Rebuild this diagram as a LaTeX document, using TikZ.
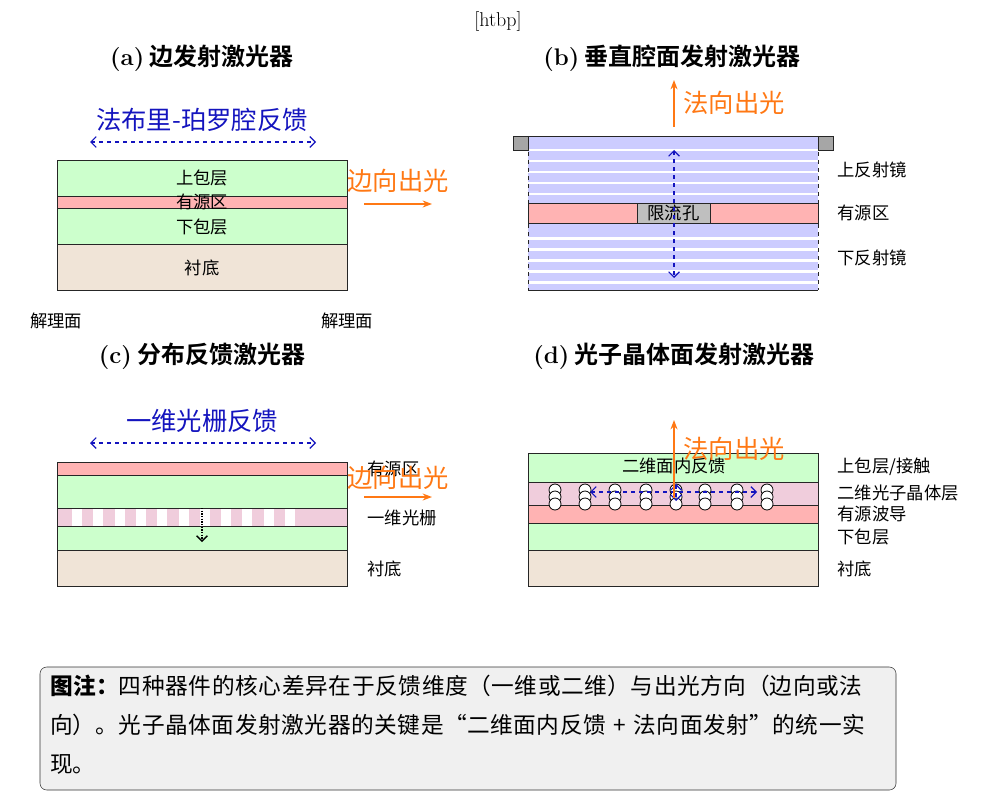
\documentclass[tikz,border=0pt]{standalone}
\usepackage{fontspec}
\newfontfamily\cjk{Noto Sans CJK SC}
\newfontfamily\cjkb{Noto Sans CJK SC}[BoldFont={Noto Sans CJK SC Bold}]
\XeTeXlinebreaklocale "zh"
\XeTeXlinebreakskip=0pt plus 1pt
\usetikzlibrary{arrows.meta}
\definecolor{clad}{RGB}{204,255,204}
\definecolor{act}{RGB}{255,179,179}
\definecolor{subs}{RGB}{240,228,215}
\definecolor{phc}{RGB}{240,205,220}
\definecolor{dbr}{RGB}{204,204,255}
\definecolor{outc}{RGB}{255,120,20}
\definecolor{fbc}{RGB}{20,20,190}
\tikzset{
  layer/.style={draw=black!85, line width=0.6pt},
  lbl/.style={font=\cjk\fontsize{13}{15}\selectfont, inner sep=1pt},
  rlbl/.style={lbl, anchor=west},
  ttl/.style={font=\cjkb\bfseries\fontsize{18}{20}\selectfont},
  outarrow/.style={outc, line width=1.2pt, -{Stealth[length=7pt]}},
  outlbl/.style={outc, font=\cjk\fontsize{19}{21}\selectfont, inner sep=0pt},
  fbarrow/.style={fbc, dashed, line width=0.9pt, {Straight Barb[length=4pt]}-{Straight Barb[length=4pt]}},
  fblbl/.style={fbc, font=\cjk\fontsize{19}{21}\selectfont, inner sep=0pt},
}
\begin{document}
\begin{tikzpicture}[x=0.75pt, y=-0.75pt]
  \useasboundingbox (0,0) rectangle (998,802);
  \node (htbp) at (498,22) {\fontsize{15}{17}\selectfont [htbp]};

  % (a) edge emitter
  \node[ttl] (ta) at (202,58) {{\normalfont\bfseries (a)} 边发射激光器};
  \fill[clad] (57,160) rectangle (347,196);
  \fill[act] (57,196) rectangle (347,208);
  \fill[clad] (57,208) rectangle (347,244);
  \fill[subs] (57,244) rectangle (347,290);
  \draw[layer] (57,160) rectangle (347,290);
  \foreach \yy in {196,208,244} \draw[layer] (57,\yy) -- (347,\yy);
  \node[lbl] (ua) at (202,178) {上包层};
  \node[lbl] (aa) at (202,202) {有源区};
  \node[lbl] (la) at (202,227) {下包层};
  \node[lbl] (sa) at (202,268) {衬底};
  \node[lbl] (cl) at (56,321) {解理面};
  \node[lbl] (cr) at (347,321) {解理面};
  \coordinate (fa1) at (90,142);
  \coordinate (fa2) at (316,142);
  \draw[fbarrow] (fa1) -- (fa2);
  \node[fblbl] (fba) at (202,120) {法布里-珀罗腔反馈};
  \coordinate (oa1) at (364,204);
  \coordinate (oa2) at (432,204);
  \draw[outarrow] (oa1) -- (oa2);
  \node[outlbl] (ola) at (398,181) {边向出光};

  % (b) VCSEL
  \node[ttl] (tb) at (672,58) {{\normalfont\bfseries (b)} 垂直腔面发射激光器};
  \fill[dbr] (528,136) rectangle (818,203);
  \fill[dbr] (528,223) rectangle (818,290);
  \foreach \yy in {149,160,171,182,193,237,248,259,270,281}
    \fill[white] (528,\yy) rectangle (818,\yy+2.5);
  \fill[act] (528,203) rectangle (818,223);
  \draw[layer, dashed] (528,136) -- (528,290) (818,136) -- (818,290);
  \draw[layer] (528,136) -- (818,136) (528,290) -- (818,290)
               (528,203) rectangle (818,223);
  \node[draw=black!85, fill=black!25, minimum width=55pt, minimum height=15pt,
        inner sep=0pt, lbl] (ox) at (673.5,213) {限流孔};
  \draw[layer, fill=black!35] (513,136) rectangle (528,150);
  \draw[layer, fill=black!35] (818,136) rectangle (833,150);
  \coordinate (fb1) at (674,150);
  \coordinate (fb2) at (674,278);
  \draw[fbarrow] (fb1) -- (fb2);
  \coordinate (ob1) at (674,127);
  \coordinate (ob2) at (674,80);
  \draw[outarrow] (ob1) -- (ob2);
  \node[outlbl] (olb) at (734,103) {法向出光};
  \node[rlbl] (rb1) at (836,170) {上反射镜};
  \node[rlbl] (rb2) at (836,213) {有源区};
  \node[rlbl] (rb3) at (836,258) {下反射镜};

  % (c) DFB
  \node[ttl] (tc) at (202,356) {{\normalfont\bfseries (c)} 分布反馈激光器};
  \fill[act] (57,462) rectangle (347,475);
  \fill[clad] (57,475) rectangle (347,508);
  \fill[phc] (57,508) rectangle (347,526);
  \foreach \i in {0,...,10}
    \fill[white] (72+21.3*\i,508) rectangle (82+21.3*\i,526);
  \fill[clad] (57,526) rectangle (347,550);
  \fill[subs] (57,550) rectangle (347,586);
  \draw[layer] (57,462) rectangle (347,586);
  \foreach \yy in {475,508,526,550} \draw[layer] (57,\yy) -- (347,\yy);
  \coordinate (gc1) at (202,508);
  \coordinate (gc2) at (202,542);
  \draw[densely dotted, line width=1pt, -{Straight Barb[length=4pt]}] (gc1) -- (gc2);
  \coordinate (fc1) at (90,443);
  \coordinate (fc2) at (316,443);
  \draw[fbarrow] (fc1) -- (fc2);
  \node[fblbl] (fbc) at (202,421) {一维光栅反馈};
  \coordinate (oc1) at (364,497);
  \coordinate (oc2) at (432,497);
  \draw[outarrow] (oc1) -- (oc2);
  \node[rlbl] (rc1) at (366,469) {有源区};
  \node[outlbl] (olc) at (398,478) {边向出光};
  \node[rlbl] (rc2) at (366,518) {一维光栅};
  \node[rlbl] (rc3) at (366,569) {衬底};

  % (d) PCSEL
  \node[ttl] (td) at (674,356) {{\normalfont\bfseries (d)} 光子晶体面发射激光器};
  \fill[clad] (528,453) rectangle (818,482);
  \fill[phc] (528,482) rectangle (818,505);
  \fill[act] (528,505) rectangle (818,523);
  \fill[clad] (528,523) rectangle (818,550);
  \fill[subs] (528,550) rectangle (818,586);
  \draw[layer] (528,453) rectangle (818,586);
  \foreach \yy in {482,505,523,550} \draw[layer] (528,\yy) -- (818,\yy);
  \node[lbl] (ifb) at (674,466) {二维面内反馈};
  \foreach \xx in {555,585,615,646,676,705,737,767}
    \foreach \yy in {490,497,504}
      \draw[fill=white, line width=0.6pt] (\xx,\yy) circle (4.5pt);
  \coordinate (fd1) at (590,492);
  \coordinate (fd2) at (757,492);
  \draw[fbarrow] (fd1) -- (fd2);
  \coordinate (fd3) at (676,484);
  \coordinate (fd4) at (676,501);
  \draw[fbarrow] (fd3) -- (fd4);
  \coordinate (od1) at (674,498);
  \coordinate (od2) at (674,420);
  \draw[outarrow] (od1) -- (od2);
  \node[outlbl] (old) at (734,449) {法向出光};
  \node[rlbl] (rd1) at (836,467) {上包层/接触};
  \node[rlbl] (rd2) at (836,493) {二维光子晶体层};
  \node[rlbl] (rd3) at (836,514) {有源波导};
  \node[rlbl] (rd4) at (836,537) {下包层};
  \node[rlbl] (rd5) at (836,569) {衬底};

  % note
  \draw[black!80, fill=black!6, rounded corners=5pt] (40,667) rectangle (896,790);
  \node[anchor=north west, inner sep=0pt, text width=626pt, align=left,
        font=\cjk\fontsize{17}{29}\selectfont] (note) at (50,675)
    {\textbf{图注：}四种器件的核心差异在于反馈维度（一维或二维）与出光方向（边向或法向）。光子晶体面发射激光器的关键是“二维面内反馈 + 法向面发射”的统一实现。};
\end{tikzpicture}
\end{document}
